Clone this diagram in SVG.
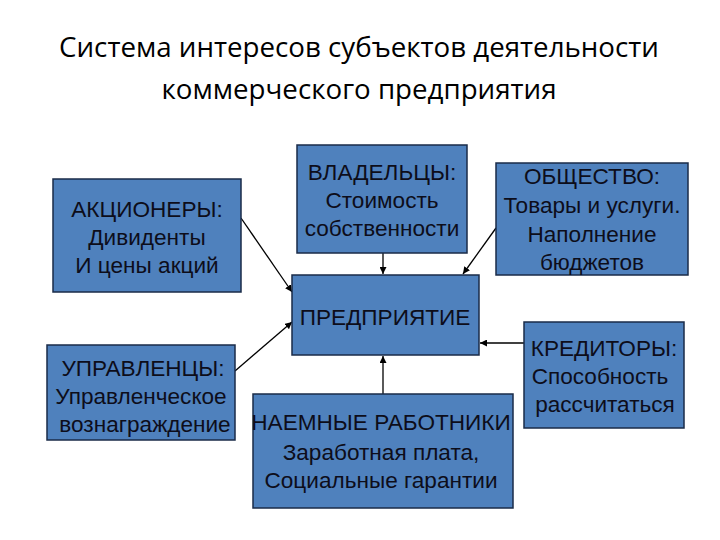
<svg xmlns="http://www.w3.org/2000/svg" width="720" height="540" viewBox="0 0 720 540">
<style>
.box{fill:#4f81bd;stroke:#1a2b48;stroke-width:1.5}
.t{font-family:"Liberation Sans",Arial,sans-serif;font-size:22.6px;fill:#0d0d1a;text-anchor:middle}
.title{font-family:"Open Sans","Liberation Sans",sans-serif;font-size:27.7px;fill:#000;text-anchor:middle}
.c{stroke:#000;stroke-width:1.3;fill:none;marker-end:url(#ah)}
</style>
<defs>
<marker id="ah" viewBox="0 0 10 10" refX="10" refY="5" markerWidth="7" markerHeight="7" markerUnits="userSpaceOnUse" orient="auto">
<path d="M0,0 L10,5 L0,10 z" fill="#000"/>
</marker>
</defs>
<rect width="720" height="540" fill="#fff"/>
<g id="title">
<text class="title" x="359" y="57">Система интересов субъектов деятельности</text>
<text class="title" x="359" y="99">коммерческого предприятия</text>
</g>
<g id="connectors">
<line class="c" x1="241" y1="218" x2="292" y2="292"/>
<line class="c" x1="383" y1="253" x2="383" y2="274"/>
<line class="c" x1="496" y1="228" x2="463" y2="274"/>
<line class="c" x1="235" y1="371" x2="292" y2="322"/>
<line class="c" x1="383" y1="394" x2="383" y2="356"/>
<line class="c" x1="524" y1="343" x2="480" y2="343"/>
</g>
<g id="akcionery">
<rect class="box" x="53" y="179" width="188" height="113"/>
<text class="t" x="147" y="217">АКЦИОНЕРЫ:</text>
<text class="t" x="147" y="245">Дивиденты</text>
<text class="t" x="147" y="273">И цены акций</text>
</g>
<g id="vladelcy">
<rect class="box" x="297" y="145" width="170" height="108"/>
<text class="t" x="382" y="180">ВЛАДЕЛЬЦЫ:</text>
<text class="t" x="382" y="208">Стоимость</text>
<text class="t" x="382" y="236">собственности</text>
</g>
<g id="obshchestvo">
<rect class="box" x="496" y="163" width="192" height="112"/>
<text class="t" x="592" y="184">ОБЩЕСТВО:</text>
<text class="t" x="592" y="213">Товары и услуги.</text>
<text class="t" x="592" y="242">Наполнение</text>
<text class="t" x="592" y="270">бюджетов</text>
</g>
<g id="predpriyatie">
<rect class="box" x="292" y="275" width="187" height="80"/>
<text class="t" x="385" y="325">ПРЕДПРИЯТИЕ</text>
</g>
<g id="upravlency">
<rect class="box" x="47" y="345" width="188" height="95"/>
<text class="t" x="143" y="376">УПРАВЛЕНЦЫ:</text>
<text class="t" x="141" y="404">Управленческое</text>
<text class="t" x="145" y="432">вознаграждение</text>
</g>
<g id="naemnye">
<rect class="box" x="253" y="394" width="260" height="114"/>
<text class="t" x="381" y="430">НАЕМНЫЕ РАБОТНИКИ</text>
<text class="t" x="381" y="460">Заработная плата,</text>
<text class="t" x="381" y="488">Социальные гарантии</text>
</g>
<g id="kreditory">
<rect class="box" x="524" y="322" width="160" height="106"/>
<text class="t" x="604" y="356">КРЕДИТОРЫ:</text>
<text class="t" x="600" y="384">Способность</text>
<text class="t" x="605" y="412">рассчитаться</text>
</g>
</svg>
